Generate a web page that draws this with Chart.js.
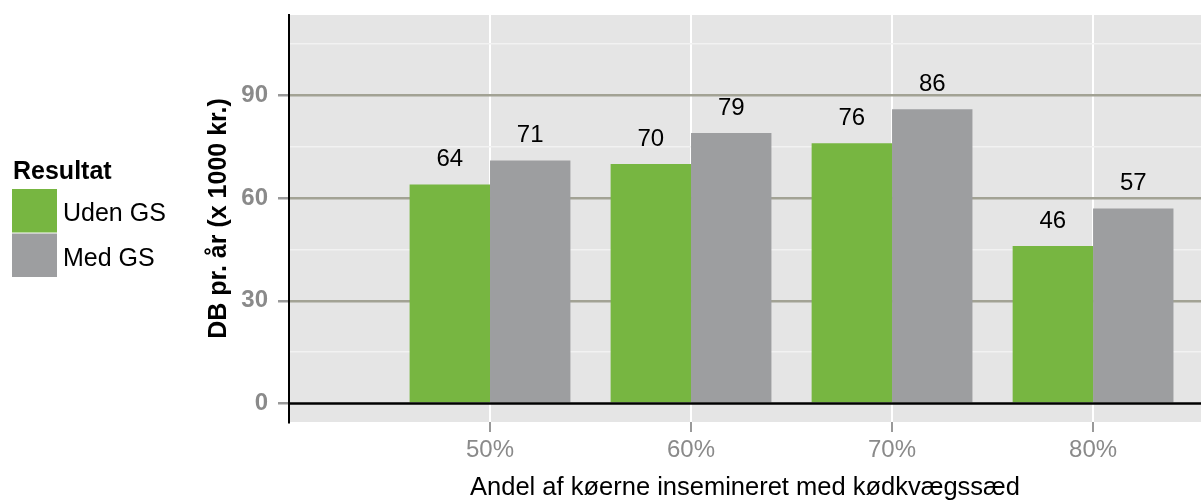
<!DOCTYPE html>
<html>
<head>
<meta charset="utf-8">
<script src="https://cdn.jsdelivr.net/npm/chart.js@4/dist/chart.umd.min.js"></script>
<style>
  body { margin: 0; background: #fff; }
  #wrap { width: 1201px; height: 500px; }
</style>
</head>
<body>
<div id="wrap"><canvas id="chart" width="1201" height="500"></canvas></div>
<script>
// data
const categories = [50, 60, 70, 80];
const udenGS = [64, 70, 76, 46];
const medGS = [71, 79, 86, 57];
const yTicks = [0, 15, 30, 45, 60, 75, 90, 105];
const yLabeled = [0, 30, 60, 90];
const seriesNames = ['Uden GS', 'Med GS'];
const seriesColors = ['#77b641', '#9d9ea0'];

Chart.defaults.font.family = "'Liberation Sans', Arial, Helvetica, sans-serif";

const panelBg = {
  id: 'panelBg',
  beforeDraw(chart) {
    const a = chart.chartArea, ctx = chart.ctx;
    ctx.save();
    ctx.fillStyle = '#e5e5e5';
    ctx.fillRect(a.left, a.top, a.right - a.left, a.bottom - a.top);
    ctx.restore();
  }
};

const zeroAndLabels = {
  id: 'zeroAndLabels',
  afterDatasetsDraw(chart) {
    const ctx = chart.ctx, a = chart.chartArea;
    const y0 = chart.scales.y.getPixelForValue(0);
    ctx.save();
    ctx.strokeStyle = '#000';
    ctx.lineWidth = 2.5;
    ctx.beginPath();
    ctx.moveTo(a.left, y0);
    ctx.lineTo(a.right, y0);
    ctx.stroke();
    // value labels
    ctx.fillStyle = '#000';
    ctx.font = "24px 'Liberation Sans', Arial, sans-serif";
    ctx.textAlign = 'center';
    ctx.textBaseline = 'alphabetic';
    chart.data.datasets.forEach((ds, i) => {
      chart.getDatasetMeta(i).data.forEach((bar, j) => {
        ctx.fillText(String(ds.data[j].y), bar.x, bar.y - 18);
      });
    });
    ctx.restore();
  }
};

const sideLegend = {
  id: 'sideLegend',
  afterDraw(chart) {
    const ctx = chart.ctx;
    ctx.save();
    ctx.fillStyle = '#000';
    ctx.textAlign = 'left';
    ctx.textBaseline = 'alphabetic';
    ctx.font = "bold 25px 'Liberation Sans', Arial, sans-serif";
    ctx.fillText('Resultat', 13, 179);
    ctx.font = "25px 'Liberation Sans', Arial, sans-serif";
    chart.data.datasets.forEach((ds, i) => {
      const top = 189 + i * 44.5;
      ctx.fillStyle = ds.backgroundColor;
      ctx.fillRect(12, top, 45, 43.5);
      ctx.fillStyle = '#000';
      ctx.fillText(ds.label, 63, top + 32);
    });
    ctx.restore();
  }
};

new Chart(document.getElementById('chart'), {
  type: 'bar',
  data: {
    datasets: [
      {
        label: seriesNames[0],
        data: categories.map((c, i) => ({ x: c, y: udenGS[i] })),
        backgroundColor: seriesColors[0]
      },
      {
        label: seriesNames[1],
        data: categories.map((c, i) => ({ x: c, y: medGS[i] })),
        backgroundColor: seriesColors[1]
      }
    ]
  },
  options: {
    responsive: false,
    animation: false,
    categoryPercentage: 0.8,
    barPercentage: 1.0,
    layout: { padding: { left: 200, top: 15, right: 0, bottom: 0 } },
    plugins: {
      legend: { display: false },
      tooltip: { enabled: false }
    },
    scales: {
      x: {
        type: 'linear',
        min: 40,
        max: 85.37,
        offset: false,
        afterBuildTicks: s => { s.ticks = categories.map(v => ({ value: v })); },
        afterFit: s => { s.height = 78; s.paddingLeft = 0; s.paddingRight = 0; },
        grid: {
          offset: false,
          color: '#ffffff',
          lineWidth: 2,
          tickColor: '#999999',
          tickWidth: 2,
          tickLength: 10
        },
        border: { display: false },
        ticks: {
          callback: v => v + '%',
          color: '#8a8a8a',
          font: { size: 24, lineHeight: 1 },
          padding: 6,
          maxRotation: 0,
          autoSkip: false
        },
        title: {
          display: true,
          text: 'Andel af køerne insemineret med kødkvægssæd',
          color: '#000',
          font: { size: 25.5, lineHeight: 1 },
          padding: { top: 0, bottom: -1 }
        }
      },
      y: {
        min: -5.4,
        max: 113.5,
        afterBuildTicks: s => { s.ticks = yTicks.map(v => ({ value: v })); },
        afterFit: s => { s.width = 89; s.paddingTop = 0; s.paddingBottom = 0; },
        grid: {
          color: c => {
            if (!c.tick) return '#f2f2f2';
            if (c.tick.value === 0) return 'rgba(0,0,0,0)';
            return yLabeled.includes(c.tick.value) ? '#a2a294' : '#f2f2f2';
          },
          lineWidth: c => (c.tick && yLabeled.includes(c.tick.value)) ? 2.5 : 1.5,
          tickColor: c => (c.tick && yLabeled.includes(c.tick.value)) ? '#999999' : 'rgba(0,0,0,0)',
          tickWidth: 2.5,
          tickLength: 11
        },
        border: { display: true, color: '#000', width: 2 },
        ticks: {
          callback: v => yLabeled.includes(v) ? String(v) : '',
          color: '#8a8a8a',
          font: { size: 24, weight: 'bold' },
          padding: 10,
          autoSkip: false
        },
        title: {
          display: true,
          text: 'DB pr. år (x 1000 kr.)',
          color: '#000',
          font: { size: 25, weight: 'bold', lineHeight: 1 },
          padding: { top: 7, bottom: 0 }
        }
      }
    }
  },
  plugins: [panelBg, zeroAndLabels, sideLegend]
});
</script>
</body>
</html>
